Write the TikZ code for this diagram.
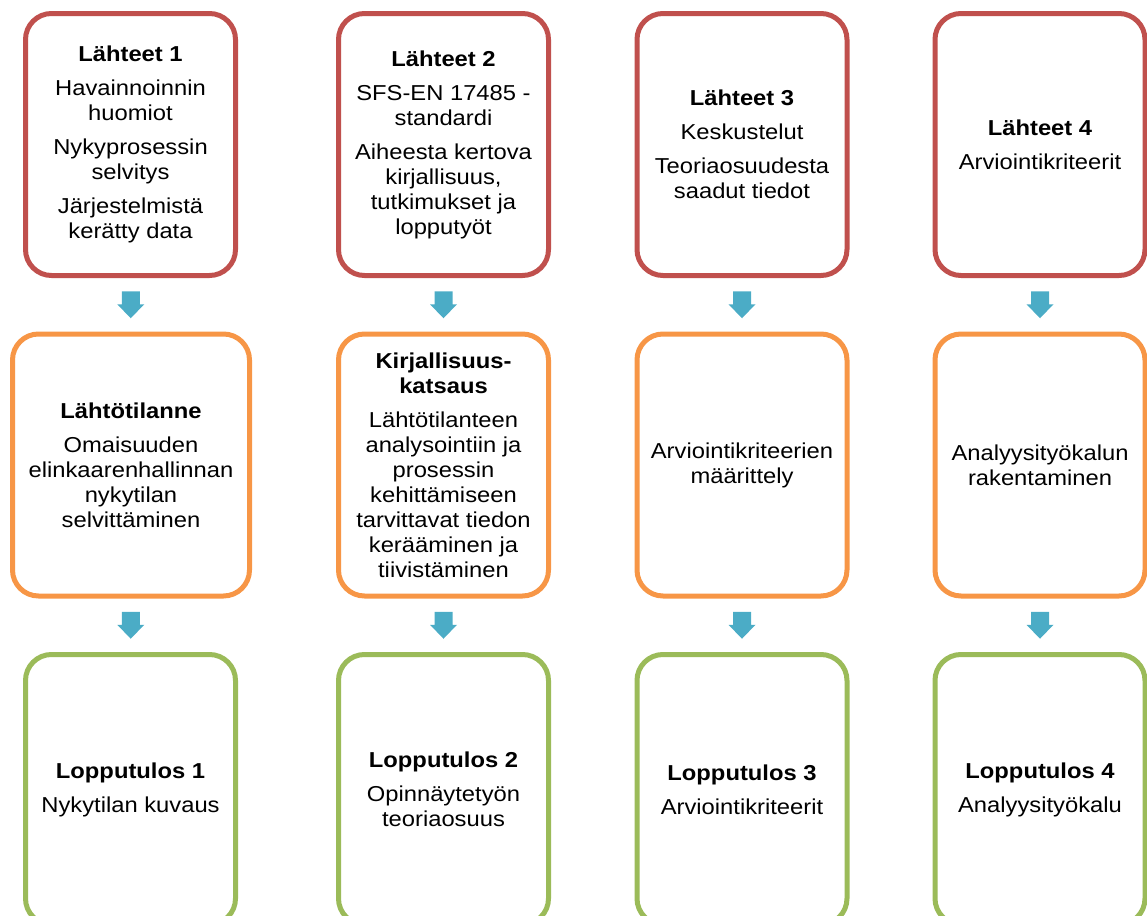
\documentclass[tikz,border=0pt]{standalone}
\usepackage{fontspec}
\setmainfont{Liberation Sans}[FakeStretch=1.1]
\usepackage{tikz}
\usetikzlibrary{calc}
\definecolor{colorsrc}{HTML}{C0504D}
\definecolor{colorwork}{HTML}{F79646}
\definecolor{colorres}{HTML}{9BBB59}
\definecolor{colorarr}{HTML}{4BACC6}
\tikzset{
  phase/.style={draw, line width=2.5pt, rounded corners=13pt, fill=white,
    minimum width=105pt, minimum height=131pt, inner sep=0pt, align=center,
    font=\fontsize{10.8}{12.5}\selectfont},
  srcbox/.style={phase, draw=colorsrc},
  workbox/.style={phase, draw=colorwork},
  resbox/.style={phase, draw=colorres, minimum height=135pt},
  flowfill/.style={fill=colorarr, draw=none}
}
\newcommand\hd[1]{\textbf{#1}}
\newcommand\flowarrow[2]{%
  \coordinate (m) at ($(#1.south)!0.5!(#2.north)$);
  \fill[flowfill] (m) ++(-9,-13.5) -- ++(18,0) -- ++(0,13) -- ++(4.5,0)
    -- ++(-13.5,14) -- ++(-13.5,-14) -- ++(4.5,0) -- cycle;}

\begin{document}
\begin{tikzpicture}[x=0.5pt, y=-0.5pt]
\useasboundingbox (0,0) rectangle (1147,916);

% lahteet
\node[srcbox](a1) at (130.5,144.5)
{\hd{Lähteet 1}\\[4.5pt] Havainnoinnin\\huomiot\\[4.5pt]
Nykyprosessin\\selvitys\\[4.5pt] Järjestelmistä\\kerätty data};

\node[srcbox](a2) at (443.5,144.5)
{\hd{Lähteet 2}\\[4.5pt] SFS-EN 17485 -\\standardi\\[4.5pt]
Aiheesta kertova\\kirjallisuus,\\tutkimukset ja\\lopputyöt};

\node[srcbox](a3) at (742,144.5)
{\hd{Lähteet 3}\\[4.5pt] Keskustelut\\[4.5pt] Teoriaosuudesta\\saadut tiedot};

\node[srcbox](a4) at (1040,144.5)
{\hd{Lähteet 4}\\[4.5pt] Arviointikriteerit};

% vaiheet
\node[workbox, minimum width=118.5pt](b1) at (131,465)
{\hd{Lähtötilanne}\\[4.5pt] Omaisuuden\\elinkaarenhallinnan\\nykytilan\\selvittäminen};

\node[workbox](b2) at (443.5,465)
{\hd{Kirjallisuus-}\\\hd{katsaus}\\[4.5pt] Lähtötilanteen\\analysointiin ja\\prosessin\\kehittämiseen\\tarvittavat tiedon\\kerääminen ja\\tiivistäminen};

\node[workbox](b3) at (742,465)
{Arviointikriteerien\\määrittely};

\node[workbox](b4) at (1040,465)
{Analyysityökalun\\rakentaminen};

% lopputulokset
\node[resbox](c1) at (130.5,789.5)
{\hd{Lopputulos 1}\\[4.5pt] Nykytilan kuvaus};

\node[resbox](c2) at (443.5,789.5)
{\hd{Lopputulos 2}\\[4.5pt] Opinnäytetyön\\teoriaosuus};

\node[resbox](c3) at (742,789.5)
{\hd{Lopputulos 3}\\[4.5pt] Arviointikriteerit};

\node[resbox](c4) at (1040,789.5)
{\hd{Lopputulos 4}\\[4.5pt] Analyysityökalu};

\flowarrow{a1}{b1}
\flowarrow{a2}{b2}
\flowarrow{a3}{b3}
\flowarrow{a4}{b4}
\flowarrow{b1}{c1}
\flowarrow{b2}{c2}
\flowarrow{b3}{c3}
\flowarrow{b4}{c4}
\end{tikzpicture}
\end{document}
